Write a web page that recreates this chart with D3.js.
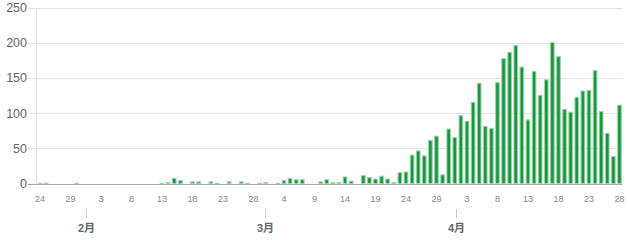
<!DOCTYPE html>
<html>
<head>
<meta charset="utf-8">
<script src="https://cdn.jsdelivr.net/npm/d3@7"></script>
<style>
  body { margin: 0; background: #fff; }
  svg { display: block; font-family: "Liberation Sans", Arial, "Noto Sans CJK SC", sans-serif; }
</style>
</head>
<body>
<div id="chart"></div>
<script>
// daily counts, Jan 24 .. Apr 28
const startDay = new Date(2020, 0, 24);
const endDay = new Date(2020, 3, 28);
const counts = [
  1, 1, 0, 0, 0, 0, 1, 0, 0, 0,
  0, 0, 0, 0, 0, 0, 0, 0, 0, 0,
  1, 2, 8, 5, 0, 3, 3, 0, 3, 1,
  0, 3, 0, 3, 1, 0, 1, 2, 0, 1,
  5, 8, 6, 6, 0, 0, 3, 6, 2, 2,
  10, 4, 0, 12, 9, 7, 11, 7, 2, 16,
  17, 41, 47, 40, 62, 68, 13, 78, 66, 97,
  89, 116, 143, 82, 79, 144, 178, 187, 197, 166,
  91, 160, 126, 148, 201, 181, 106, 102, 123, 132,
  133, 161, 103, 72, 39, 112
];
const yTicks = [0, 50, 100, 150, 200, 250];
const monthLabels = ["2月", "3月", "4月"];

const width = 628, height = 240;
const margin = { top: 7.5, right: 5.5, bottom: 56.5, left: 37 };

const days = d3.timeDay.range(startDay, d3.timeDay.offset(endDay, 1));
const data = days.map((d, i) => ({ date: d, value: counts[i] }));

const svg = d3.select("#chart").append("svg")
    .attr("width", width)
    .attr("height", height);

const x = d3.scaleBand()
    .domain(days.map(d => +d))
    .range([margin.left, width - margin.right])
    .paddingInner(0.24)
    .paddingOuter(0.12);

// month ticks sit on a continuous time axis
const xTime = d3.scaleTime()
    .domain([startDay, endDay])
    .range([margin.left, width - margin.right]);

const y = d3.scaleLinear()
    .domain([0, 250])
    .range([height - margin.bottom, margin.top]);

// grid
svg.append("g")
  .selectAll("line")
  .data(yTicks.filter(t => t > 0))
  .join("line")
    .attr("x1", margin.left - 9)
    .attr("x2", width - margin.right)
    .attr("y1", d => Math.round(y(d)) + 0.5)
    .attr("y2", d => Math.round(y(d)) + 0.5)
    .attr("stroke", "#e3e3e3");

svg.append("line")
    .attr("x1", margin.left - 0.5)
    .attr("x2", margin.left - 0.5)
    .attr("y1", y(250))
    .attr("y2", y(0))
    .attr("stroke", "#e0e0e0");

svg.append("g")
  .selectAll("text")
  .data(yTicks)
  .join("text")
    .attr("x", margin.left - 10)
    .attr("y", d => y(d) + 4.5)
    .attr("text-anchor", "end")
    .attr("font-size", 12.5)
    .attr("fill", "#666")
    .text(d => d);

// bars
svg.append("g")
  .selectAll("rect")
  .data(data.filter(d => d.value > 0))
  .join("rect")
    .attr("x", d => x(+d.date) + 0.5)
    .attr("width", x.bandwidth() - 1)
    .attr("y", d => y(d.value) + 0.5)
    .attr("height", d => Math.max(0.5, y(0) - y(d.value) - 0.5))
    .attr("fill", "#1a9640")
    .attr("stroke", "#9ad6a8")
    .attr("stroke-width", 1);

// baseline
svg.append("line")
    .attr("x1", margin.left - 9)
    .attr("x2", width - margin.right)
    .attr("y1", Math.round(y(0)) + 0.5)
    .attr("y2", Math.round(y(0)) + 0.5)
    .attr("stroke", "#aaa");

// day labels every 5 days
svg.append("g")
  .selectAll("text")
  .data(days.filter((d, i) => i % 5 === 0))
  .join("text")
    .attr("x", d => x(+d) + x.bandwidth() / 2)
    .attr("y", 202)
    .attr("text-anchor", "middle")
    .attr("font-size", 9)
    .attr("fill", "#888")
    .text(d => d.getDate());

// month labels
const months = [new Date(2020, 1, 1), new Date(2020, 2, 1), new Date(2020, 3, 1)];
const monthG = svg.append("g")
  .selectAll("g")
  .data(months)
  .join("g")
    .attr("transform", d => `translate(${Math.round(xTime(d)) + 0.5},0)`);

monthG.append("line")
    .attr("y1", 209)
    .attr("y2", 218)
    .attr("stroke", "#ccc");

monthG.append("text")
    .attr("y", 232)
    .attr("text-anchor", "middle")
    .attr("font-size", 11)
    .attr("font-weight", "bold")
    .attr("fill", "#666")
    .text((d, i) => monthLabels[i]);
</script>
</body>
</html>
